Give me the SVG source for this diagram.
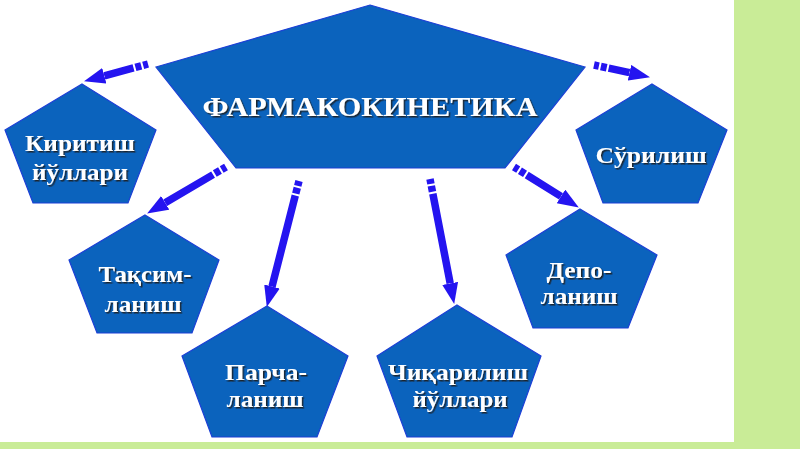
<svg xmlns="http://www.w3.org/2000/svg" width="800" height="449" viewBox="0 0 800 449">
<style>
.pent{fill:#0b63bd;stroke:#1c3fd6;stroke-width:1.2}
.t{font-family:"Liberation Serif","Times New Roman",serif;font-weight:bold;fill:#ffffff;text-anchor:middle;filter:url(#sh)}
.s{font-size:23px}
.arr{fill:none;stroke:#2414f0;stroke-width:7.5;stroke-dasharray:5 2 6 2 400;marker-end:url(#head)}
</style>
<defs>
<filter id="sh" x="-10%" y="-30%" width="120%" height="160%">
<feDropShadow dx="1.5" dy="1.5" stdDeviation="0.7" flood-color="#1a1a1a" flood-opacity="0.9"/>
</filter>
<marker id="head" markerUnits="userSpaceOnUse" markerWidth="24" markerHeight="18" refX="0" refY="8" orient="auto">
<path d="M0,0 L21,8 L0,16 Z" fill="#2414f0"/>
</marker>
</defs>
<rect x="0" y="0" width="800" height="449" fill="#c9ec97"/>
<rect x="0" y="0" width="734" height="442" fill="#ffffff"/>
<g id="connectors">
<path class="arr" d="M148,64 L104.3,75.8"/>
<path class="arr" d="M594,65 L629.5,72.7"/>
<path class="arr" d="M226,167 L165.2,202.8"/>
<path class="arr" d="M299,181 L272,286.6"/>
<path class="arr" d="M430,179 L450.2,283.4"/>
<path class="arr" d="M514,167 L561,196.4"/>
</g>
<g id="farmakokinetika">
<polygon class="pent" points="370,5 585,67 505,168 236,168 156,67"/>
<text class="t" x="370" y="116" font-size="27" textLength="335" lengthAdjust="spacingAndGlyphs">ФАРМАКОКИНЕТИКА</text>
</g>
<g id="kiritish">
<polygon class="pent" points="82,84 156,130 128,203 33,203 5,130"/>
<text class="t s" x="80" y="151" textLength="110" lengthAdjust="spacingAndGlyphs">Киритиш</text>
<text class="t s" x="80" y="180" textLength="96" lengthAdjust="spacingAndGlyphs">йўллари</text>
</g>
<g id="surilish">
<polygon class="pent" points="652,84 727,130 698,203 603,203 576,130"/>
<text class="t s" x="651" y="163" textLength="111" lengthAdjust="spacingAndGlyphs">Сўрилиш</text>
</g>
<g id="taqsimlanish">
<polygon class="pent" points="145,215 219,260 192,333 97,333 69,260"/>
<text class="t s" x="145" y="282" textLength="93" lengthAdjust="spacingAndGlyphs">Тақсим-</text>
<text class="t s" x="143" y="312" textLength="77" lengthAdjust="spacingAndGlyphs">ланиш</text>
</g>
<g id="depolanish">
<polygon class="pent" points="580,209 657,255 628,328 533,328 506,255"/>
<text class="t s" x="579" y="278" textLength="65" lengthAdjust="spacingAndGlyphs">Депо-</text>
<text class="t s" x="579" y="304" textLength="77" lengthAdjust="spacingAndGlyphs">ланиш</text>
</g>
<g id="parchalanish">
<polygon class="pent" points="267,306 348,356 317,437 212,437 182,356"/>
<text class="t s" x="266" y="380" textLength="82" lengthAdjust="spacingAndGlyphs">Парча-</text>
<text class="t s" x="265" y="407" textLength="77" lengthAdjust="spacingAndGlyphs">ланиш</text>
</g>
<g id="chiqarilish">
<polygon class="pent" points="457,305 541,356 512,437 407,437 377,356"/>
<text class="t s" x="458" y="380" textLength="140" lengthAdjust="spacingAndGlyphs">Чиқарилиш</text>
<text class="t s" x="460" y="407" textLength="95" lengthAdjust="spacingAndGlyphs">йўллари</text>
</g>
</svg>
